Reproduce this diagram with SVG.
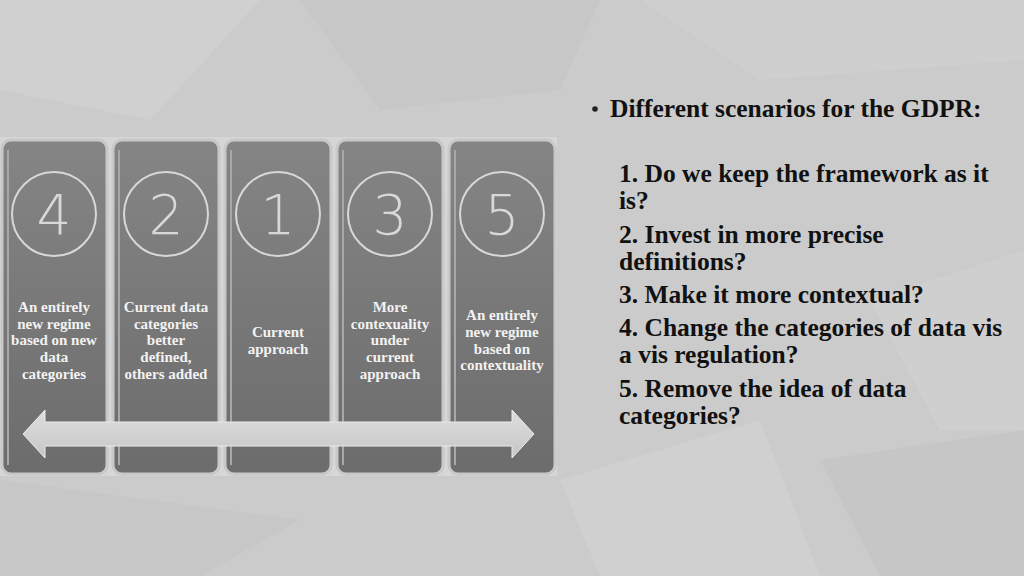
<svg xmlns="http://www.w3.org/2000/svg" width="1024" height="576" viewBox="0 0 1024 576">
  <defs>
    <linearGradient id="colg" x1="0" y1="0" x2="0" y2="1">
      <stop offset="0" stop-color="#858585"/>
      <stop offset="1" stop-color="#6c6c6c"/>
    </linearGradient>
    <linearGradient id="arrg" x1="0" y1="0" x2="0" y2="1">
      <stop offset="0" stop-color="#dedede"/>
      <stop offset="1" stop-color="#c6c6c6"/>
    </linearGradient>
    <style>
      .col { fill: url(#colg); stroke: #c8c8c8; stroke-width: 3; }
      .hl { stroke: #a8a8a8; stroke-width: 2; }
      .ring { fill: none; stroke: #d8d8d8; stroke-width: 2; }
      .num { font-family: "DejaVu Sans", "Open Sans", sans-serif; font-weight: 200; font-size: 55px; fill: #d8d8d8; text-anchor: middle; }
      .lbl { font-family: "Liberation Serif", serif; font-weight: bold; font-size: 15px; fill: #f2f2f2; text-anchor: middle; }
      .body { font-family: "Liberation Serif", serif; font-weight: bold; font-size: 25.5px; fill: #111111; }
    </style>
  </defs>
  <rect width="1024" height="576" fill="#cbcbcb"/>
  <polygon points="0,0 260,0 150,120 0,90" fill="#d0d0d0"/>
  <polygon points="300,0 600,0 560,90 380,110" fill="#c7c7c7"/>
  <polygon points="640,0 1024,0 1024,60 760,80" fill="#cfcfcf"/>
  <polygon points="560,480 760,420 820,576 600,576" fill="#d0d0d0"/>
  <polygon points="820,460 1024,430 1024,576 880,576" fill="#c6c6c6"/>
  <polygon points="0,480 300,520 200,576 0,576" fill="#c7c7c7"/>
  <polygon points="870,300 1024,250 1024,430 940,430" fill="#cfcfcf"/>

  <rect x="0" y="137" width="557" height="339" fill="#d6d6d6"/>

  <g id="col4">
    <rect class="col" x="2" y="140" width="105" height="334" rx="9"/>
    <line class="hl" x1="8" y1="150" x2="8" y2="465"/>
    <circle class="ring" cx="54" cy="214" r="42"/>
    <text class="num" x="54" y="234">4</text>
    <text class="lbl" x="54" y="312">An entirely</text>
    <text class="lbl" x="54" y="329">new regime</text>
    <text class="lbl" x="54" y="345">based on new</text>
    <text class="lbl" x="54" y="362">data</text>
    <text class="lbl" x="54" y="379">categories</text>
  </g>
  <g id="col2">
    <rect class="col" x="113" y="140" width="106" height="334" rx="9"/>
    <line class="hl" x1="119" y1="150" x2="119" y2="465"/>
    <circle class="ring" cx="166" cy="214" r="42"/>
    <text class="num" x="166" y="234">2</text>
    <text class="lbl" x="166" y="312">Current data</text>
    <text class="lbl" x="166" y="329">categories</text>
    <text class="lbl" x="166" y="345">better</text>
    <text class="lbl" x="166" y="362">defined,</text>
    <text class="lbl" x="166" y="379">others added</text>
  </g>
  <g id="col1">
    <rect class="col" x="225" y="140" width="106" height="334" rx="9"/>
    <line class="hl" x1="231" y1="150" x2="231" y2="465"/>
    <circle class="ring" cx="278" cy="214" r="42"/>
    <text class="num" x="278" y="234">1</text>
    <text class="lbl" x="278" y="337">Current</text>
    <text class="lbl" x="278" y="354">approach</text>
  </g>
  <g id="col3">
    <rect class="col" x="337" y="140" width="106" height="334" rx="9"/>
    <line class="hl" x1="343" y1="150" x2="343" y2="465"/>
    <circle class="ring" cx="390" cy="214" r="42"/>
    <text class="num" x="390" y="234">3</text>
    <text class="lbl" x="390" y="312">More</text>
    <text class="lbl" x="390" y="329">contexuality</text>
    <text class="lbl" x="390" y="345">under</text>
    <text class="lbl" x="390" y="362">current</text>
    <text class="lbl" x="390" y="379">approach</text>
  </g>
  <g id="col5">
    <rect class="col" x="449" y="140" width="106" height="334" rx="9"/>
    <line class="hl" x1="455" y1="150" x2="455" y2="465"/>
    <circle class="ring" cx="502" cy="214" r="42"/>
    <text class="num" x="502" y="234">5</text>
    <text class="lbl" x="502" y="320">An entirely</text>
    <text class="lbl" x="502" y="337">new regime</text>
    <text class="lbl" x="502" y="354">based on</text>
    <text class="lbl" x="502" y="370">contextuality</text>
  </g>

  <g id="connectors">
    <polygon points="23,434 45,410 45,422 512,422 512,410 534,434 512,458 512,446 45,446 45,458" fill="url(#arrg)" stroke="#ececec" stroke-width="1"/>
  </g>

  <g id="text">
    <circle cx="595" cy="109" r="2.8" fill="#222"/>
    <text class="body" x="610" y="117">Different scenarios for the GDPR:</text>
    <text class="body" x="619" y="182">1. Do we keep the framework as it</text>
    <text class="body" x="619" y="209">is?</text>
    <text class="body" x="619" y="243">2. Invest in more precise</text>
    <text class="body" x="619" y="270">definitions?</text>
    <text class="body" x="619" y="303">3. Make it more contextual?</text>
    <text class="body" x="619" y="336">4. Change the categories of data vis</text>
    <text class="body" x="619" y="363">a vis regulation?</text>
    <text class="body" x="619" y="397">5. Remove the idea of data</text>
    <text class="body" x="619" y="424">categories?</text>
  </g>
</svg>
